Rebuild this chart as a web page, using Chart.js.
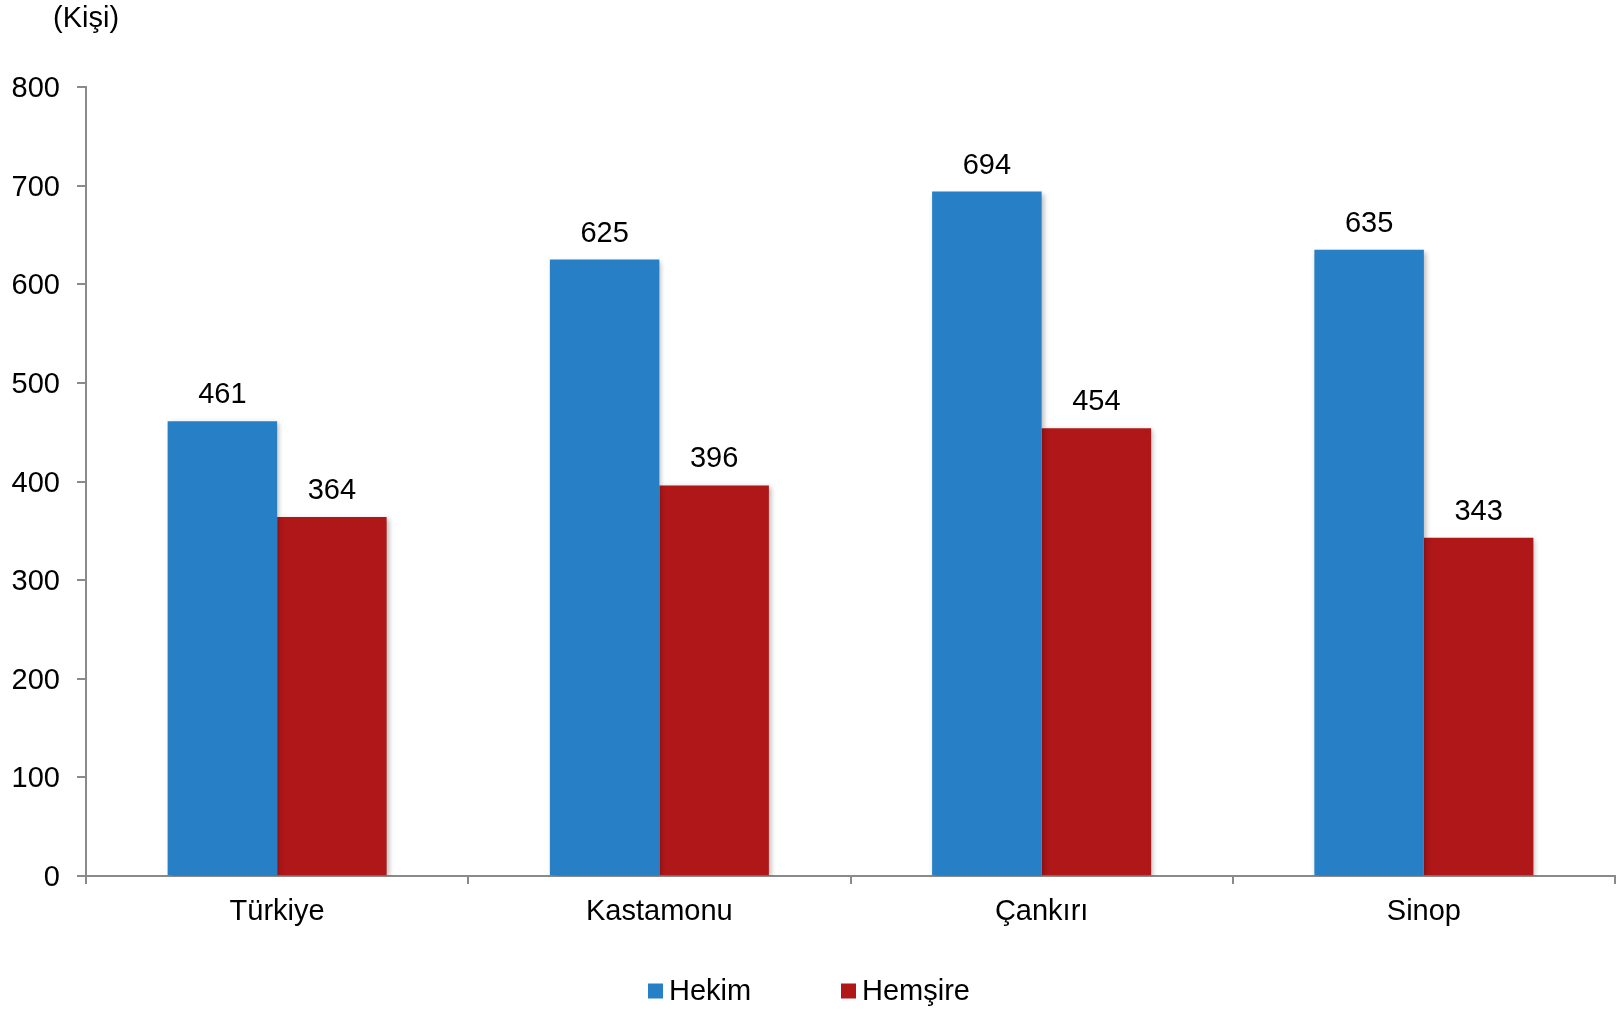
<!DOCTYPE html>
<html>
<head>
<meta charset="utf-8">
<title>Hekim ve Hemşire</title>
<script src="https://cdn.jsdelivr.net/npm/chart.js@4.4.1/dist/chart.umd.min.js"></script>
<style>
    html, body { margin: 0; padding: 0; background: #ffffff; }
    #wrap { width: 1618px; height: 1009px; position: relative; }
</style>
</head>
<body>
<div id="wrap"><canvas id="chart" width="1618" height="1009"></canvas></div>
<script>
// -------------------------------------------------
// Chart data
// -------------------------------------------------
const categories = ['Türkiye', 'Kastamonu', 'Çankırı', 'Sinop'];
const hekimValues = [461, 625, 694, 635];
const hemsireValues = [364, 396, 454, 343];
const seriesNames = ['Hekim', 'Hemşire'];
const unitLabel = '(Kişi)';

const BLUE = '#2780C5';
const RED = '#AF1718';
const AXIS = '#8a8a8a';
const FONT = '"Liberation Sans", Arial, sans-serif';
const FONT_SIZE = 29;

// -------------------------------------------------
// Soft shadow behind the bars
// -------------------------------------------------
const barShadow = {
    id: 'barShadow',
    beforeDatasetsDraw(chart) {
        const ctx = chart.ctx;
        ctx.save();
        ctx.shadowColor = 'rgba(0, 0, 0, 0.28)';
        ctx.shadowBlur = 5;
        ctx.shadowOffsetX = 2;
        ctx.shadowOffsetY = 2;
    },
    afterDatasetsDraw(chart) {
        chart.ctx.restore();
    }
};

// -------------------------------------------------
// Value labels, unit label and legend
// -------------------------------------------------
const extras = {
    id: 'extras',
    afterDraw(chart) {
        const ctx = chart.ctx;
        ctx.save();
        ctx.font = FONT_SIZE + 'px ' + FONT;
        ctx.fillStyle = '#000000';

        // values on top of bars
        ctx.textAlign = 'center';
        ctx.textBaseline = 'alphabetic';
        chart.data.datasets.forEach((ds, i) => {
            const meta = chart.getDatasetMeta(i);
            meta.data.forEach((bar, j) => {
                ctx.fillText(String(ds.data[j]), bar.x, bar.y - 18);
            });
        });

        // unit label
        ctx.textAlign = 'left';
        ctx.textBaseline = 'middle';
        ctx.fillText(unitLabel, 53, 19);

        // legend
        const legendY = 991;
        const legendX = [648, 841];
        chart.data.datasets.forEach((ds, i) => {
            ctx.fillStyle = ds.backgroundColor;
            ctx.fillRect(legendX[i], legendY - 7.5, 15, 15);
            ctx.fillStyle = '#000000';
            ctx.fillText(ds.label, legendX[i] + 21, legendY + 1);
        });
        ctx.restore();
    }
};

const ctx = document.getElementById('chart').getContext('2d');
new Chart(ctx, {
    type: 'bar',
    data: {
        labels: categories,
        datasets: [
            { label: seriesNames[0], data: hekimValues, backgroundColor: BLUE },
            { label: seriesNames[1], data: hemsireValues, backgroundColor: RED }
        ]
    },
    options: {
        responsive: false,
        animation: false,
        layout: { padding: { top: 87, right: 3, bottom: 0, left: 0 } },
        datasets: {
            bar: { categoryPercentage: 0.573, barPercentage: 1.0 }
        },
        scales: {
            x: {
                grid: {
                    display: true,
                    drawOnChartArea: false,
                    drawTicks: true,
                    tickLength: 8,
                    color: AXIS,
                    lineWidth: 2,
                    offset: true
                },
                border: { color: AXIS, width: 2 },
                ticks: {
                    color: '#000000',
                    font: { family: FONT, size: FONT_SIZE },
                    padding: 11,
                    maxRotation: 0
                },
                afterFit(scale) { scale.height = 133; }
            },
            y: {
                min: 0,
                max: 800,
                grid: {
                    display: true,
                    drawOnChartArea: false,
                    drawTicks: true,
                    tickLength: 9,
                    color: AXIS,
                    lineWidth: 2
                },
                border: { color: AXIS, width: 2 },
                ticks: {
                    stepSize: 100,
                    color: '#000000',
                    font: { family: FONT, size: FONT_SIZE },
                    padding: 17,
                    labelOffset: 2
                },
                afterFit(scale) { scale.width = 86; }
            }
        },
        plugins: {
            legend: { display: false },
            tooltip: { enabled: false }
        }
    },
    plugins: [barShadow, extras]
});
</script>
</body>
</html>
